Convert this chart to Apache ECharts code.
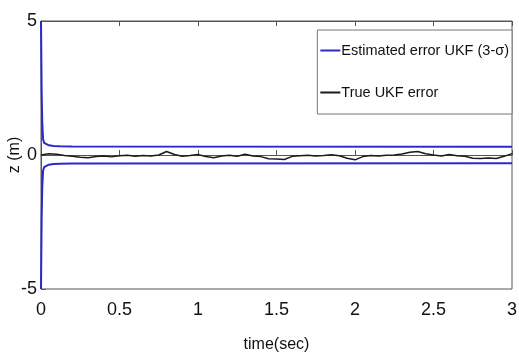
<!DOCTYPE html>
<html>
<head>
<meta charset="utf-8">
<script src="https://cdn.jsdelivr.net/npm/echarts@6/dist/echarts.min.js"></script>
<style>
    html, body {margin: 0; padding: 0; background: #fff;}
    #chart {width: 519px; height: 360px;}
</style>
</head>
<body>
<div id="chart"></div>
<script>
// 3-sigma bound of the UKF estimate (upper, lower is mirrored)
var boundTime = [0, 0.004, 0.008, 0.013, 0.02, 0.03, 0.05, 0.08, 0.12, 0.2, 3];
var boundValue = [5, 2.4, 1.2, 0.6, 0.45, 0.4, 0.36, 0.34, 0.33, 0.32, 0.31];

// true error, sampled every 0.05 s
var errTime = [0, 0.05, 0.1, 0.15, 0.2, 0.25, 0.3, 0.35, 0.4, 0.45,
    0.5, 0.55, 0.6, 0.65, 0.7, 0.75, 0.8, 0.85, 0.9, 0.95,
    1.0, 1.05, 1.1, 1.15, 1.2, 1.25, 1.3, 1.35, 1.4, 1.45,
    1.5, 1.55, 1.6, 1.65, 1.7, 1.75, 1.8, 1.85, 1.9, 1.95,
    2.0, 2.05, 2.1, 2.15, 2.2, 2.25, 2.3, 2.35, 2.4, 2.45,
    2.5, 2.55, 2.6, 2.65, 2.7, 2.75, 2.8, 2.85, 2.9, 2.95, 3.0];
var errValue = [0.0, 0.05, 0.03, -0.02, -0.05, -0.08, -0.1, -0.06, -0.04, -0.07,
    -0.03, -0.01, -0.05, -0.02, -0.04, 0.0, 0.13, 0.02, -0.05, -0.02,
    0.02, -0.06, -0.1, -0.04, -0.01, -0.05, 0.03, -0.04, -0.06, -0.14,
    -0.15, -0.17, -0.05, -0.03, -0.01, -0.04, -0.02, 0.01, -0.03, -0.12,
    -0.18, -0.06, -0.02, -0.04, -0.01, 0.0, 0.04, 0.1, 0.13, 0.05,
    0.0, -0.04, 0.02, -0.03, -0.05, -0.12, -0.13, -0.11, -0.13, -0.05, 0.05];

var xTicks = ['0', '0.5', '1', '1.5', '2', '2.5', '3'];
var yTicks = ['-5', '0', '5'];

var estName = 'Estimated error UKF (3-\u03c3)';
var trueName = 'True UKF error';
var font = '"Liberation Sans", Arial, sans-serif';
var axisColor = '#555';

function pairs(xs, ys, sign) {
    var out = [];
    for (var i = 0; i < xs.length; i++) {
        out.push([xs[i], sign * ys[i]]);
    }
    return out;
}

var myChart = echarts.init(document.getElementById('chart'));
var option = {
    backgroundColor: '#fff',
    animation: false,
    grid: {
        left: 41,
        right: 7,
        top: 21,
        bottom: 71,
        outerBoundsMode: 'none',
        show: true,
        borderColor: axisColor,
        borderWidth: 1
    },
    legend: {
        data: [estName, trueName],
        orient: 'vertical',
        right: 7,
        top: 30,
        icon: 'rect',
        itemWidth: 20,
        itemHeight: 2,
        itemGap: 27,
        padding: [13, 3, 14, 3],
        backgroundColor: '#fff',
        borderColor: '#777',
        borderWidth: 1,
        borderRadius: 0,
        textStyle: {
            fontFamily: font,
            fontSize: 14.5,
            color: '#111',
            padding: [0, 0, 0, -4]
        }
    },
    xAxis: [
        {
            type: 'value',
            min: 0,
            max: 3,
            interval: 0.5,
            name: 'time(sec)',
            nameLocation: 'middle',
            nameGap: 48,
            nameMoveOverlap: false,
            nameTextStyle: {fontFamily: font, fontSize: 16, color: '#111'},
            axisLine: {lineStyle: {color: axisColor}},
            axisTick: {inside: true, length: 5, lineStyle: {color: axisColor}},
            splitLine: {show: false},
            axisLabel: {
                fontFamily: font,
                fontSize: 18,
                color: '#111',
                margin: 12,
                formatter: function (v) {
                    return xTicks[Math.round(v / 0.5)];
                }
            }
        },
        {
            type: 'value',
            position: 'top',
            min: 0,
            max: 3,
            interval: 0.5,
            axisLine: {lineStyle: {color: axisColor}},
            axisTick: {inside: true, length: 5, lineStyle: {color: axisColor}},
            axisLabel: {show: false},
            splitLine: {show: false}
        }
    ],
    yAxis: {
        type: 'value',
        min: -5,
        max: 5,
        interval: 5,
        name: 'z (m)',
        nameLocation: 'middle',
        nameGap: 18,
        nameMoveOverlap: false,
        nameTextStyle: {fontFamily: font, fontSize: 16, color: '#111'},
        axisLine: {show: true, lineStyle: {color: axisColor}},
        axisTick: {inside: true, length: 5, lineStyle: {color: axisColor}},
        splitLine: {show: false},
        axisLabel: {
            fontFamily: font,
            fontSize: 18,
            color: '#111',
            margin: 4,
            formatter: function (v) {
                return yTicks[Math.round((v + 5) / 5)];
            }
        }
    },
    series: [
        {
            name: estName,
            type: 'line',
            data: pairs(boundTime, boundValue, 1),
            symbol: 'none',
            lineStyle: {color: '#2a2ac8', width: 2},
            itemStyle: {color: '#2a2ac8'},
            z: 3
        },
        {
            name: estName,
            type: 'line',
            data: pairs(boundTime, boundValue, -1),
            symbol: 'none',
            lineStyle: {color: '#2a2ac8', width: 2},
            itemStyle: {color: '#2a2ac8'},
            z: 3
        },
        {
            name: trueName,
            type: 'line',
            data: pairs(errTime, errValue, 1),
            symbol: 'none',
            lineStyle: {color: '#1a1a1a', width: 1.5},
            itemStyle: {color: '#1a1a1a'},
            z: 4
        }
    ]
};
myChart.setOption(option);
</script>
</body>
</html>
